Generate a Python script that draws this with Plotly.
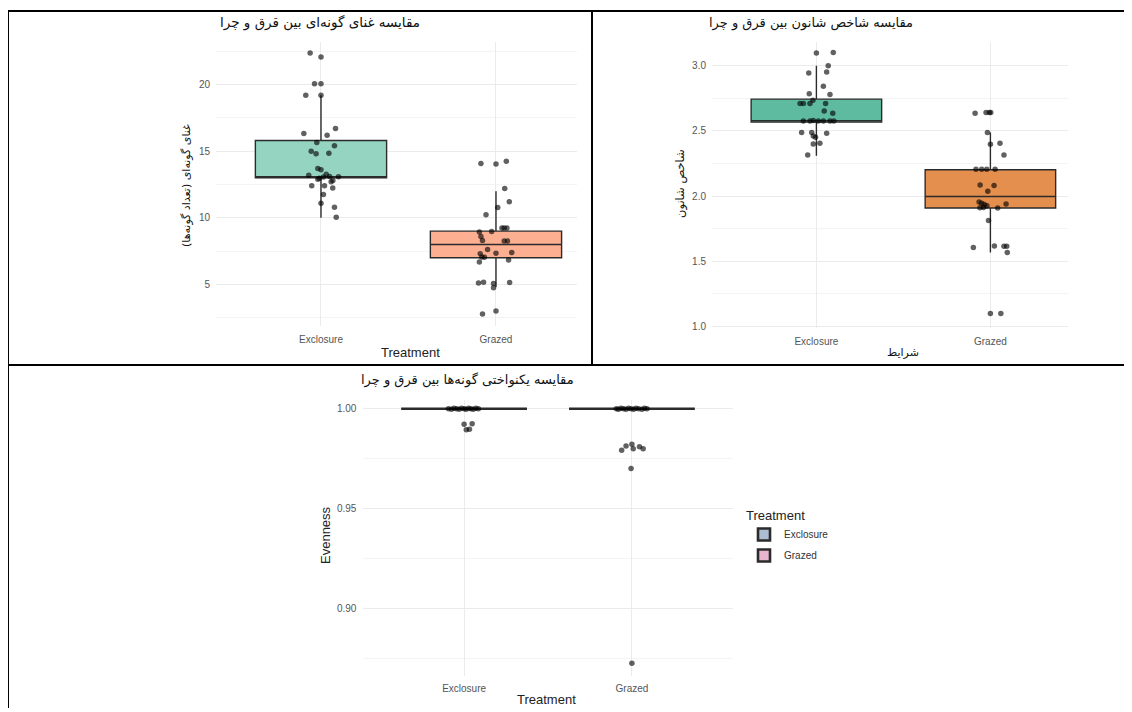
import plotly.graph_objects as go

# The page body has an 8px margin, so the figure is laid out in a frame shifted by 8px.
OFF = 8
W, H = 1132 - OFF, 712 - OFF

categories = ["Exclosure", "Grazed"]

# ---- Panel 1: species richness ----
richness_exc = [22.37, 22.07, 20.05, 20.05, 19.2, 19.2, 16.32, 16.7, 16.2, 15.65, 15.4, 15.0, 14.8, 14.85,
                13.7, 13.6, 13.2, 13.26, 13.1, 13.06, 12.96, 13.08, 12.9, 12.8, 12.7, 12.4, 12.4, 12.24,
                11.74, 11.1, 10.8, 10.05]
richness_exc_jitter = [-0.062, 0.0, -0.037, 0.0, -0.087, 0.0, -0.098, 0.083, 0.035, -0.024, 0.077, -0.056,
                       -0.028, 0.045, -0.018, 0.0, -0.07, 0.03, 0.049, 0.014, -0.009, 0.1, -0.018, 0.068,
                       0.058, -0.053, 0.02, 0.067, 0.014, 0.0, 0.077, 0.087]
richness_grz = [14.08, 14.03, 14.25, 12.19, 11.2, 10.77, 10.22, 9.23, 9.23, 9.23, 8.98, 8.93, 8.6, 8.3,
                8.26, 8.26, 7.63, 7.31, 7.34, 7.39, 7.06, 7.04, 6.69, 6.84, 5.1, 5.17, 5.07, 4.75, 5.15,
                2.78, 3.0]
richness_grz_jitter = [-0.086, 0.0, 0.059, 0.05, 0.076, 0.01, -0.057, 0.034, 0.047, 0.063, -0.025, -0.095,
                       -0.086, -0.077, 0.047, 0.066, -0.048, -0.09, 0.0, 0.09, -0.081, -0.066, -0.095,
                       0.072, -0.1, -0.071, -0.014, -0.014, 0.078, -0.077, 0.0]
richness_q1 = [13.0, 7.0]
richness_median = [13.0, 8.0]
richness_q3 = [15.8, 9.0]
richness_lower = [10.0, 4.8]
richness_upper = [19.2, 12.0]

# ---- Panel 2: Shannon index ----
shannon_exc = [3.097, 3.10, 3.0, 2.944, 2.952, 2.842, 2.784, 2.779, 2.735, 2.71, 2.71, 2.71, 2.71, 2.652,
               2.635, 2.575, 2.575, 2.58, 2.575, 2.575, 2.575, 2.575, 2.487, 2.487, 2.46, 2.482, 2.45,
               2.40, 2.405, 2.314]
shannon_exc_jitter = [0.0, 0.097, 0.068, -0.044, 0.059, 0.04, -0.041, 0.078, -0.02, -0.094, -0.075, -0.037,
                      0.053, 0.045, 0.094, -0.075, -0.037, -0.018, 0.011, 0.04, 0.078, 0.1, -0.085, -0.027,
                      -0.018, 0.059, -0.005, -0.018, 0.02, -0.05]
shannon_grz = [2.634, 2.64, 2.64, 2.64, 2.487, 2.398, 2.405, 2.314, 2.205, 2.205, 2.205, 2.205, 2.085,
               2.08, 2.037, 1.955, 1.945, 1.935, 1.925, 1.91, 1.912, 1.908, 1.94, 1.813, 1.605, 1.618,
               1.615, 1.615, 1.567, 1.10, 1.10]
shannon_grz_jitter = [-0.088, -0.025, -0.006, 0.002, -0.017, 0.0, 0.055, 0.078, -0.083, -0.05, -0.021, 0.027,
                      -0.059, 0.021, -0.015, -0.065, -0.05, -0.035, -0.02, -0.06, -0.04, 0.042, 0.09,
                      -0.011, -0.098, 0.023, 0.078, 0.094, 0.097, 0.0, 0.06]
shannon_q1 = [2.567, 1.908]
shannon_median = [2.578, 1.997]
shannon_q3 = [2.743, 2.202]
shannon_lower = [2.31, 1.567]
shannon_upper = [3.0, 2.487]

# ---- Panel 3: evenness ----
evenness_exc = [1.0, 0.9998, 1.0003, 1.0, 0.9997, 1.0002, 1.0, 0.9998, 1.0003, 1.0, 0.9998, 1.0002, 1.0,
                0.9922, 0.9925, 0.9895, 0.9897]
evenness_exc_jitter = [-0.093, -0.075, -0.06, -0.045, -0.03, -0.015, 0.0, 0.012, 0.027, 0.04, 0.055, 0.07,
                       0.085, 0.0, 0.048, 0.013, 0.032]
evenness_grz = [1.0, 0.9998, 1.0003, 1.0, 0.9997, 1.0002, 1.0, 0.9998, 1.0003, 1.0, 0.9998, 1.0002, 1.0,
                0.9792, 0.9813, 0.9822, 0.980, 0.981, 0.980, 0.970, 0.8725]
evenness_grz_jitter = [-0.093, -0.08, -0.065, -0.05, -0.035, -0.02, -0.005, 0.01, 0.025, 0.04, 0.06, 0.075,
                       0.09, -0.061, -0.035, 0.0, 0.008, 0.045, 0.067, -0.005, 0.0]
evenness_q1 = [1.0, 1.0]
evenness_median = [1.0, 1.0]
evenness_q3 = [1.0, 1.0]
evenness_lower = [1.0, 1.0]
evenness_upper = [1.0, 1.0]

title1 = "مقایسه غنای گونه‌ای بین قرق و چرا"
title2 = "مقایسه شاخص شانون بین قرق و چرا"
title3 = "مقایسه یکنواختی گونه‌ها بین قرق و چرا"
ytitle1 = "غنای گونه‌ای (تعداد گونه‌ها)"
ytitle2 = "شاخص شانون"
xtitle2 = "شرایط"

set2 = ["rgba(148,212,192,1)", "rgba(253,175,145,1)"]
dark2 = ["rgba(95,187,160,1)", "rgba(228,143,78,1)"]
even_fill = ["rgba(172,188,210,1)", "rgba(232,180,208,1)"]

fig = go.Figure()


def px(X):
    return (X - OFF) / W


def py(Y):
    return 1 - (Y - OFF) / H


def add_panel(ax, q1, med, q3, lo, hi, fills, pts, line_w, legend=False):
    for i, cat in enumerate(categories):
        fig.add_trace(go.Box(
            x=[i + 1], q1=[q1[i]], median=[med[i]], q3=[q3[i]],
            lowerfence=[lo[i]], upperfence=[hi[i]], width=0.75,
            fillcolor=fills[i], line=dict(color="#2b2b2b", width=line_w),
            whiskerwidth=0, boxpoints=False, name=cat, showlegend=legend,
            legendgroup=cat + ax, xaxis="x" + ax, yaxis="y" + ax, hoverinfo="skip"))
    for i, (vals, jit) in enumerate(pts):
        fig.add_trace(go.Scatter(
            x=[i + 1 + j for j in jit], y=vals, mode="markers",
            marker=dict(size=5.5, color="rgba(0,0,0,0.62)", line=dict(width=0)),
            showlegend=False, xaxis="x" + ax, yaxis="y" + ax, hoverinfo="skip"))


add_panel("", richness_q1, richness_median, richness_q3, richness_lower, richness_upper, set2,
          [(richness_exc, richness_exc_jitter), (richness_grz, richness_grz_jitter)], 1.4)
add_panel("2", shannon_q1, shannon_median, shannon_q3, shannon_lower, shannon_upper, dark2,
          [(shannon_exc, shannon_exc_jitter), (shannon_grz, shannon_grz_jitter)], 1.4)
add_panel("3", evenness_q1, evenness_median, evenness_q3, evenness_lower, evenness_upper, even_fill,
          [(evenness_exc, evenness_exc_jitter), (evenness_grz, evenness_grz_jitter)], 2.6, legend=True)

tickfont = dict(family="Liberation Sans, Arial, sans-serif", size=10, color="#555555")
grid = "#EBEBEB"
minor_grid = "#F4F4F4"


def xaxis(domain, rng, anchor, standoff):
    return dict(domain=domain, range=rng, anchor=anchor, tickmode="array", tickvals=[1, 2],
                ticktext=categories, showgrid=True, gridcolor=grid, gridwidth=1, zeroline=False,
                showline=False, ticks="", tickfont=tickfont, ticklabelstandoff=standoff, fixedrange=True)


def yaxis(domain, rng, anchor, dtick, fmt, standoff):
    return dict(domain=domain, range=rng, anchor=anchor, tickmode="linear", tick0=0, dtick=dtick,
                tickformat=fmt, showgrid=True, gridcolor=grid, gridwidth=1, zeroline=False,
                showline=False, ticks="", tickfont=tickfont, ticklabelstandoff=standoff,
                minor=dict(tickmode="linear", tick0=0, dtick=dtick / 2, showgrid=True,
                           gridcolor=minor_grid, gridwidth=1, ticks=""), fixedrange=True)


fig.update_layout(
    width=W, height=H, margin=dict(l=0, r=0, t=0, b=0),
    paper_bgcolor="white", plot_bgcolor="white",
    xaxis=xaxis([px(216), px(577)], [0.4, 2.463], "y", 6),
    yaxis=yaxis([py(328), py(42)], [1.87, 23.2], "x", 5, ".0f", 5),
    xaxis2=xaxis([px(712), px(1068)], [0.4, 2.446], "y2", 6),
    yaxis2=yaxis([py(330), py(41.7)], [0.987, 3.185], "x2", 0.5, ".1f", 5),
    xaxis3=xaxis([px(363.4), px(732.6)], [0.4, 2.6], "y3", 5),
    yaxis3=yaxis([py(680), py(402)], [0.866, 1.0045], "x3", 0.05, ".2f", 6),
    legend=dict(x=px(744), y=py(506), xanchor="left", yanchor="top",
                title=dict(text="Treatment", font=dict(family="Liberation Sans, Arial", size=13, color="#222")),
                font=dict(family="Liberation Sans, Arial", size=10, color="#333"),
                bgcolor="rgba(0,0,0,0)", tracegroupgap=2),
)

fa = "DejaVu Sans"
ann = [
    dict(text=title1, x=px(320), y=py(23), font=dict(family=fa, size=13.5, color="#111")),
    dict(text=title2, x=px(811), y=py(23), font=dict(family=fa, size=13, color="#111")),
    dict(text=title3, x=px(467), y=py(382), font=dict(family=fa, size=13, color="#111")),
    dict(text=ytitle1, x=px(187), y=py(186), textangle=-90, font=dict(family=fa, size=11, color="#111")),
    dict(text=ytitle2, x=px(681), y=py(185), textangle=-90, font=dict(family=fa, size=11.5, color="#111")),
    dict(text="Evenness", x=px(326), y=py(538), textangle=-90,
         font=dict(family="Liberation Sans, Arial", size=13, color="#222")),
    dict(text="Treatment", x=px(410), y=py(354), font=dict(family="Liberation Sans, Arial", size=13, color="#222")),
    dict(text=xtitle2, x=px(903), y=py(354), font=dict(family=fa, size=11, color="#111")),
    dict(text="Treatment", x=px(546), y=py(703), font=dict(family="Liberation Sans, Arial", size=13, color="#222")),
]
for a in ann:
    a.update(xref="paper", yref="paper", showarrow=False, xanchor="center", yanchor="middle")
fig.update_layout(annotations=ann)

border = dict(color="black", width=2)
shapes = [
    dict(type="line", xref="paper", yref="paper", x0=px(7.5), x1=1, y0=py(11), y1=py(11), line=border),
    dict(type="line", xref="paper", yref="paper", x0=px(8), x1=px(8), y0=py(11), y1=0, line=border),
    dict(type="line", xref="paper", yref="paper", x0=px(592), x1=px(592), y0=py(11), y1=py(367), line=border),
    dict(type="line", xref="paper", yref="paper", x0=px(7.5), x1=1, y0=py(367), y1=py(367), line=border),
]
fig.update_layout(shapes=shapes)

fig.write_html("out.html")
